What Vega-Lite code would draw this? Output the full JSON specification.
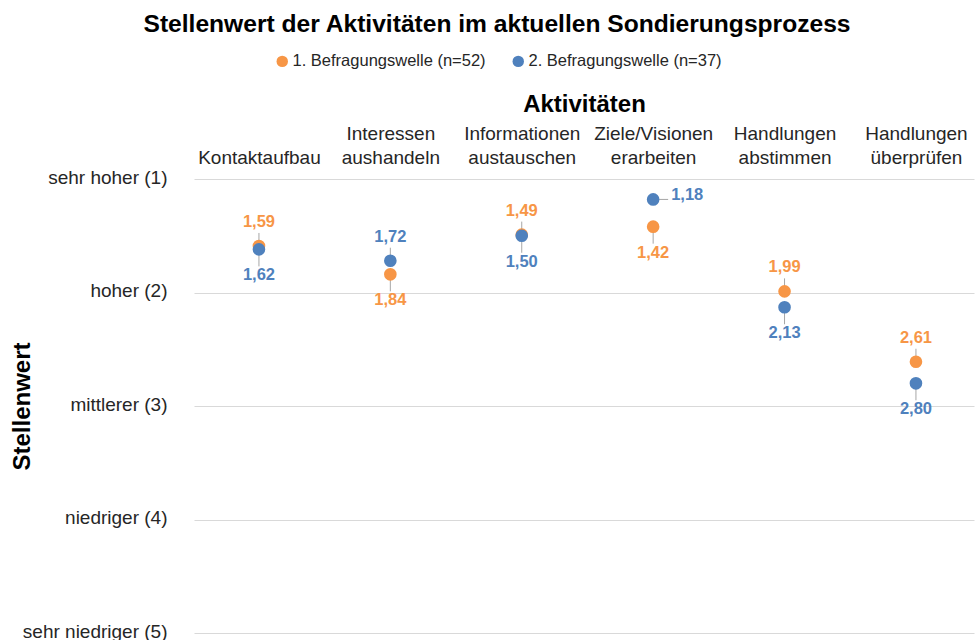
{
  "$schema": "https://vega.github.io/schema/vega-lite/v6.json",
  "autosize": "none",
  "width": 780,
  "height": 454,
  "padding": {"left": 194, "top": 179, "right": 1, "bottom": 7},
  "background": "white",
  "title": {
    "text": "Stellenwert der Aktivitäten im aktuellen Sondierungsprozess",
    "font": "Liberation Sans",
    "fontSize": 24.6,
    "fontWeight": "bold",
    "color": "#000000",
    "anchor": "middle",
    "dx": -87,
    "offset": 15
  },
  "config": {
    "view": {"stroke": null},
    "font": "Liberation Sans"
  },
  "data": {
    "values": [
      {"aktivitaet": "Kontaktaufbau", "welle": "1. Befragungswelle (n=52)", "wert": 1.59},
      {"aktivitaet": "Kontaktaufbau", "welle": "2. Befragungswelle (n=37)", "wert": 1.62},
      {"aktivitaet": "Interessen aushandeln", "welle": "1. Befragungswelle (n=52)", "wert": 1.84},
      {"aktivitaet": "Interessen aushandeln", "welle": "2. Befragungswelle (n=37)", "wert": 1.72},
      {"aktivitaet": "Informationen austauschen", "welle": "1. Befragungswelle (n=52)", "wert": 1.49},
      {"aktivitaet": "Informationen austauschen", "welle": "2. Befragungswelle (n=37)", "wert": 1.50},
      {"aktivitaet": "Ziele/Visionen erarbeiten", "welle": "1. Befragungswelle (n=52)", "wert": 1.42},
      {"aktivitaet": "Ziele/Visionen erarbeiten", "welle": "2. Befragungswelle (n=37)", "wert": 1.18},
      {"aktivitaet": "Handlungen abstimmen", "welle": "1. Befragungswelle (n=52)", "wert": 1.99},
      {"aktivitaet": "Handlungen abstimmen", "welle": "2. Befragungswelle (n=37)", "wert": 2.13},
      {"aktivitaet": "Handlungen überprüfen", "welle": "1. Befragungswelle (n=52)", "wert": 2.61},
      {"aktivitaet": "Handlungen überprüfen", "welle": "2. Befragungswelle (n=37)", "wert": 2.80}
    ]
  },
  "transform": [
    {"joinaggregate": [{"op": "min", "field": "wert", "as": "minwert"}], "groupby": ["aktivitaet"]},
    {"calculate": "datum.wert == datum.minwert ? (datum.aktivitaet == 'Ziele/Visionen erarbeiten' ? 'rechts' : 'oben') : 'unten'", "as": "lage"},
    {"calculate": "replace(format(datum.wert, '.2f'), '.', ',')", "as": "beschriftung"}
  ],
  "encoding": {
    "x": {
      "field": "aktivitaet",
      "type": "nominal",
      "sort": ["Kontaktaufbau", "Interessen aushandeln", "Informationen austauschen", "Ziele/Visionen erarbeiten", "Handlungen abstimmen", "Handlungen überprüfen"],
      "scale": {"type": "point", "padding": 0.468, "align": 0.528},
      "axis": {
        "orient": "top",
        "title": "Aktivitäten",
        "titleFont": "Liberation Sans",
        "titleFontSize": 24,
        "titleFontWeight": "bold",
        "titleColor": "#000000",
        "titlePadding": 8,
        "labelFont": "Liberation Sans",
        "labelFontSize": 19,
        "labelColor": "#262626",
        "labelAngle": 0,
        "labelPadding": 36,
        "labelLineHeight": 24,
        "labelLimit": 0,
        "labelExpr": "datum.label == 'Kontaktaufbau' ? ['', datum.label] : split(datum.label, ' ')",
        "ticks": false,
        "tickSize": 0,
        "domain": false,
        "grid": false
      }
    },
    "y": {
      "field": "wert",
      "type": "quantitative",
      "scale": {"domain": [1, 5], "reverse": true, "zero": false, "nice": false},
      "axis": {
        "title": "Stellenwert",
        "titleFont": "Liberation Sans",
        "titleFontSize": 24,
        "titleFontWeight": "bold",
        "titleColor": "#000000",
        "titleX": -172,
        "titleBaseline": "middle",
        "values": [1, 2, 3, 4, 5],
        "labelExpr": "['', 'sehr hoher (1)', 'hoher (2)', 'mittlerer (3)', 'niedriger (4)', 'sehr niedriger (5)'][datum.value]",
        "labelFont": "Liberation Sans",
        "labelFontSize": 19,
        "labelColor": "#262626",
        "labelPadding": 27,
        "labelOffset": -2,
        "ticks": false,
        "tickSize": 0,
        "domain": false,
        "grid": true,
        "gridColor": "#D9D9D9",
        "gridWidth": 1
      }
    }
  },
  "layer": [
    {
      "transform": [{"filter": "datum.lage == 'oben'"}],
      "mark": {"type": "rule", "color": "#A6A6A6", "strokeWidth": 1, "yOffset": -13, "y2Offset": 0},
      "encoding": {"y2": {"field": "wert"}}
    },
    {
      "transform": [{"filter": "datum.lage == 'unten'"}],
      "mark": {"type": "rule", "color": "#A6A6A6", "strokeWidth": 1, "yOffset": 0, "y2Offset": 17},
      "encoding": {"y2": {"field": "wert"}}
    },
    {
      "transform": [{"filter": "datum.lage == 'rechts'"}],
      "mark": {"type": "rule", "color": "#A6A6A6", "strokeWidth": 1, "xOffset": 6, "x2Offset": 15},
      "encoding": {"x2": {"field": "aktivitaet"}}
    },
    {
      "mark": {"type": "circle", "size": 160, "opacity": 1},
      "encoding": {
        "color": {
          "field": "welle",
          "type": "nominal",
          "scale": {"domain": ["1. Befragungswelle (n=52)", "2. Befragungswelle (n=37)"], "range": ["#F79646", "#4F81BD"]},
          "legend": {
            "title": null,
            "orient": "none",
            "direction": "horizontal",
            "legendX": 80,
            "legendY": -126,
            "symbolType": "circle",
            "symbolSize": 130,
            "labelFont": "Liberation Sans",
            "labelFontSize": 16.5,
            "labelColor": "#262626",
            "labelOffset": 2,
            "labelLimit": 0,
            "columnPadding": 24
          }
        }
      }
    },
    {
      "transform": [{"filter": "datum.lage == 'oben'"}],
      "mark": {"type": "text", "font": "Liberation Sans", "fontSize": 16.5, "fontWeight": "bold", "baseline": "middle", "dy": -24},
      "encoding": {
        "text": {"field": "beschriftung"},
        "color": {"field": "welle", "type": "nominal", "legend": null}
      }
    },
    {
      "transform": [{"filter": "datum.lage == 'unten'"}],
      "mark": {"type": "text", "font": "Liberation Sans", "fontSize": 16.5, "fontWeight": "bold", "baseline": "middle", "dy": 26},
      "encoding": {
        "text": {"field": "beschriftung"},
        "color": {"field": "welle", "type": "nominal", "legend": null}
      }
    },
    {
      "transform": [{"filter": "datum.lage == 'rechts'"}],
      "mark": {"type": "text", "font": "Liberation Sans", "fontSize": 16.5, "fontWeight": "bold", "baseline": "middle", "align": "left", "dx": 18, "dy": -4},
      "encoding": {
        "text": {"field": "beschriftung"},
        "color": {"field": "welle", "type": "nominal", "legend": null}
      }
    }
  ]
}
